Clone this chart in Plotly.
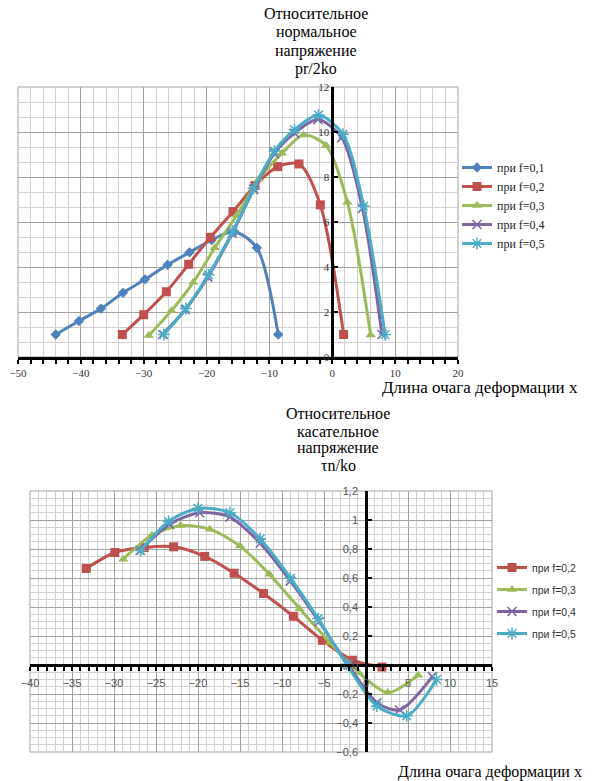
import plotly.graph_objects as go

W, H = 593, 781

# ---------------- data: top chart (normal stress) ----------------
n01_x = [-44.0, -40.3, -36.8, -33.3, -29.8, -26.2, -22.7, -19.2, -15.6, -12.0, -8.6]
n01_y = [1.0, 1.6, 2.15, 2.85, 3.45, 4.1, 4.65, 5.2, 5.57, 4.85, 1.0]

n02_x = [-33.4, -30.0, -26.4, -22.85, -19.4, -15.8, -12.3, -8.7, -5.3, -1.9, 1.8]
n02_y = [1.0, 1.88, 2.9, 4.12, 5.32, 6.46, 7.62, 8.46, 8.58, 6.76, 1.0]

n03_x = [-29.2, -25.6, -22.1, -18.7, -15.2, -11.7, -8.0, -4.6, -1.0, 2.4, 6.1]
n03_y = [0.95, 2.06, 3.32, 4.85, 6.3, 7.9, 9.05, 9.87, 9.4, 6.88, 0.98]

n04_x = [-27.0, -23.4, -19.8, -15.9, -12.5, -9.2, -6.0, -2.3, 1.5, 4.8, 7.9]
n04_y = [1.0, 2.1, 3.55, 5.5, 7.45, 9.05, 9.95, 10.55, 9.75, 6.6, 1.0]

n05_x = [-26.8, -23.3, -19.7, -15.8, -12.5, -9.2, -6.0, -2.2, 1.7, 5.0, 8.4]
n05_y = [1.0, 2.15, 3.65, 5.6, 7.5, 9.15, 10.1, 10.75, 9.9, 6.7, 1.0]

# ---------------- data: bottom chart (shear stress) ----------------
t02_x = [-33.3, -29.9, -26.4, -22.9, -19.2, -15.7, -12.2, -8.65, -5.2, -1.6, 1.9]
t02_y = [0.666, 0.776, 0.81, 0.815, 0.749, 0.633, 0.493, 0.336, 0.17, 0.033, -0.014]

t03_x = [-28.9, -25.5, -22.1, -18.6, -15.0, -11.5, -7.9, -4.3, -0.9, 2.6, 6.2]
t03_y = [0.73, 0.895, 0.96, 0.937, 0.82, 0.626, 0.388, 0.155, -0.05, -0.19, -0.07]

t04_x = [-26.9, -23.4, -19.8, -16.2, -12.6, -9.0, -5.6, -2.1, 1.3, 4.0, 7.9]
t04_y = [0.79, 0.97, 1.05, 1.02, 0.84, 0.58, 0.3, 0.0, -0.26, -0.31, -0.08]

t05_x = [-26.8, -23.5, -20.0, -16.2, -12.6, -9.0, -5.7, -2.3, 1.3, 4.85, 8.4]
t05_y = [0.79, 0.99, 1.08, 1.05, 0.87, 0.6, 0.32, 0.005, -0.283, -0.35, -0.1]

top_names = ["при f=0,1", "при f=0,2", "при f=0,3", "при f=0,4", "при f=0,5"]
bot_names = ["при f=0,2", "при f=0,3", "при f=0,4", "при f=0,5"]

top_title = ["Относительное", "нормальное", "напряжение", "pr/2ko"]
bot_title = ["Относительное", "касательное", "напряжение", "τn/ko"]
x_title = "Длина очага деформации x"

colors = ["#4F81BD", "#C0504D", "#9BBB59", "#8064A2", "#4BACC6"]
markers = [
    dict(symbol="diamond", size=8),
    dict(symbol="square", size=9),
    dict(symbol="triangle-up", size=9),
    dict(symbol="x-thin-open", size=9, line=dict(width=1.5)),
    dict(symbol="asterisk-open", size=10, line=dict(width=1.5)),
]

# ---------------- layout geometry (window pixels -> paper) ----------------
def px(x):
    return x / W

def py(y):
    return 1 - y / H

top_xdom = [px(18), px(458)]
top_ydom = [py(357), py(87)]
bot_xdom = [px(30), px(492)]
bot_ydom = [py(752), py(491)]

top_xr = [-50, 20]
top_yr = [0, 12]
bot_xr = [-40, 15]
bot_yr = [-0.6, 1.2]

top_yaxis_pos = top_xdom[0] + (0 - top_xr[0]) / (top_xr[1] - top_xr[0]) * (top_xdom[1] - top_xdom[0])
bot_yaxis_pos = bot_xdom[0] + (0 - bot_xr[0]) / (bot_xr[1] - bot_xr[0]) * (bot_xdom[1] - bot_xdom[0])
bot_xaxis_pos = bot_ydom[0] + (0 - bot_yr[0]) / (bot_yr[1] - bot_yr[0]) * (bot_ydom[1] - bot_ydom[0])

fig = go.Figure()

top_series = [(n01_x, n01_y), (n02_x, n02_y), (n03_x, n03_y), (n04_x, n04_y), (n05_x, n05_y)]
for i, (xs, ys) in enumerate(top_series):
    m = dict(markers[i])
    m["color"] = colors[i]
    if "line" in m:
        m["line"] = dict(m["line"], color=colors[i])
    fig.add_trace(go.Scatter(
        x=xs, y=ys, mode="lines+markers", name=top_names[i],
        line=dict(color=colors[i], width=3, shape="spline", smoothing=0.8),
        marker=m, xaxis="x", yaxis="y", legend="legend",
    ))

bot_series = [(t02_x, t02_y), (t03_x, t03_y), (t04_x, t04_y), (t05_x, t05_y)]
for j, (xs, ys) in enumerate(bot_series):
    i = j + 1
    m = dict(markers[i])
    m["color"] = colors[i]
    if "line" in m:
        m["line"] = dict(m["line"], color=colors[i])
    fig.add_trace(go.Scatter(
        x=xs, y=ys, mode="lines+markers", name=bot_names[j],
        line=dict(color=colors[i], width=3, shape="spline", smoothing=0.8),
        marker=m, xaxis="x2", yaxis="y2", legend="legend2",
        legendgroup="b%d" % j,
    ))

serif = "Liberation Serif"
sans = "Liberation Sans"
major_grid = "#A0A0A0"
minor_grid = "#D0D0D0"

fig.update_layout(
    width=W, height=H,
    margin=dict(l=0, r=0, t=0, b=0, autoexpand=False),
    paper_bgcolor="white", plot_bgcolor="white",
    separators=", ",
    showlegend=True,
    xaxis=dict(
        domain=top_xdom, range=top_xr, anchor="y", automargin=False,
        dtick=10, tick0=0, showgrid=True, gridcolor=major_grid, gridwidth=1,
        minor=dict(dtick=2, showgrid=True, gridcolor=minor_grid, ticks="outside",
                   ticklen=4, tickcolor="black", tickwidth=1.5),
        showline=True, linecolor="black", linewidth=2.5,
        ticks="outside", ticklen=4, tickcolor="black", tickwidth=1.5,
        zeroline=False,
        tickfont=dict(family=serif, size=11, color="#333333"),
    ),
    yaxis=dict(
        domain=top_ydom, range=top_yr, anchor="free", position=top_yaxis_pos, automargin=False,
        dtick=2, tick0=0, showgrid=True, gridcolor=major_grid, gridwidth=1,
        minor=dict(dtick=2/3, showgrid=True, gridcolor=minor_grid),
        showline=True, linecolor="black", linewidth=2.5,
        ticks="inside", ticklen=4, tickcolor="black", tickwidth=1.5,
        zeroline=False,
        tickfont=dict(family=serif, size=11, color="#333333"),
    ),
    xaxis2=dict(
        domain=bot_xdom, range=bot_xr, anchor="free", position=bot_xaxis_pos, automargin=False,
        dtick=5, tick0=0, showgrid=True, gridcolor=major_grid, gridwidth=1,
        minor=dict(dtick=1, showgrid=True, gridcolor=minor_grid, ticks="outside",
                   ticklen=4, tickcolor="black", tickwidth=1.5),
        showline=True, linecolor="black", linewidth=2.5,
        ticks="outside", ticklen=4, tickcolor="black", tickwidth=1.5,
        zeroline=False, ticklabelstandoff=3,
        tickfont=dict(family=sans, size=11, color="#555555"),
    ),
    yaxis2=dict(
        domain=bot_ydom, range=bot_yr, anchor="free", position=bot_yaxis_pos, automargin=False,
        dtick=0.2, tick0=0, showgrid=True, gridcolor=major_grid, gridwidth=1,
        minor=dict(dtick=0.05, showgrid=True, gridcolor=minor_grid),
        showline=True, linecolor="black", linewidth=2.5,
        ticks="inside", ticklen=4, tickcolor="black", tickwidth=1.5,
        zeroline=False, ticklabelstandoff=5,
        tickfont=dict(family=sans, size=11, color="#555555"),
    ),
    legend=dict(
        x=px(457), y=py(153), xanchor="left", yanchor="top",
        font=dict(family=serif, size=12, color="#222222"),
        bgcolor="rgba(0,0,0,0)", itemwidth=30, tracegroupgap=0,
    ),
    legend2=dict(
        x=px(492), y=py(553), xanchor="left", yanchor="top",
        font=dict(family=sans, size=10.5, color="#333333"),
        bgcolor="rgba(0,0,0,0)", itemwidth=30, tracegroupgap=3,
    ),
)

# frame around the plotting areas
for xd, yd in [(top_xdom, top_ydom), (bot_xdom, bot_ydom)]:
    fig.add_shape(type="rect", xref="paper", yref="paper",
                  x0=xd[0], x1=xd[1], y0=yd[0], y1=yd[1],
                  line=dict(color=major_grid, width=1), layer="below")

annotations = []
top_centers = [14, 32, 51, 69]
for t, yc in zip(top_title, top_centers):
    annotations.append(dict(text=t, x=px(316), y=py(yc), xref="paper", yref="paper",
                            showarrow=False, xanchor="center", yanchor="middle",
                            font=dict(family=serif, size=16, color="black")))
bot_centers = [414, 431, 448, 465]
for t, yc in zip(bot_title, bot_centers):
    annotations.append(dict(text=t, x=px(338), y=py(yc), xref="paper", yref="paper",
                            showarrow=False, xanchor="center", yanchor="middle",
                            font=dict(family=serif, size=16, color="black")))
annotations.append(dict(text=x_title, x=px(480), y=py(387), xref="paper", yref="paper",
                        showarrow=False, xanchor="center", yanchor="middle",
                        font=dict(family=serif, size=17, color="black")))
annotations.append(dict(text=x_title, x=px(490), y=py(772), xref="paper", yref="paper",
                        showarrow=False, xanchor="center", yanchor="middle",
                        font=dict(family=serif, size=16, color="black")))
fig.update_layout(annotations=annotations)

fig.write_html("out.html",
               config={"displayModeBar": False},
               post_script="document.body.style.margin='0px';document.body.style.overflow='hidden';")
